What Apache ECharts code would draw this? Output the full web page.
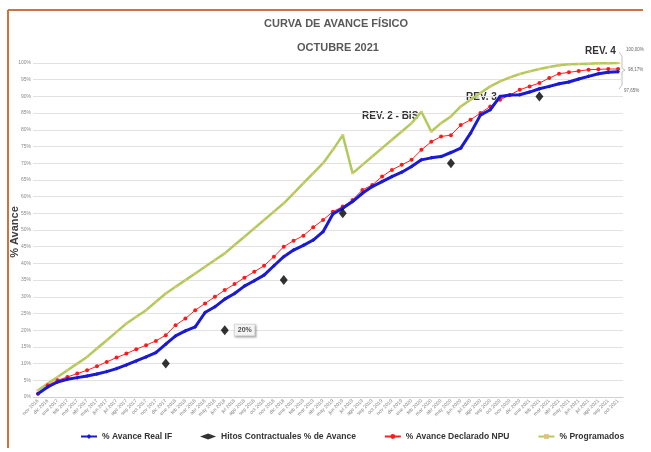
<!DOCTYPE html>
<html>
<head>
<meta charset="utf-8">
<script src="https://cdn.jsdelivr.net/npm/echarts@6/dist/echarts.min.js"></script>
<style>html,body{margin:0;padding:0;background:#fff}#c{width:651px;height:452px}</style>
</head>
<body>
<div id="c"></div>
<script>
const categories = [
 'nov 2016','dic 2016','ene 2017','feb 2017','mar 2017','abr 2017','may 2017','jun 2017','jul 2017','ago 2017','sep 2017','oct 2017',
 'nov 2017','dic 2017','ene 2018','feb 2018','mar 2018','abr 2018','may 2018','jun 2018','jul 2018','ago 2018','sep 2018','oct 2018',
 'nov 2018','dic 2018','ene 2019','feb 2019','mar 2019','abr 2019','may 2019','jun 2019','jul 2019','ago 2019','sep 2019','oct 2019',
 'nov 2019','dic 2019','ene 2020','feb 2020','mar 2020','abr 2020','may 2020','jun 2020','jul 2020','ago 2020','sep 2020','oct 2020',
 'nov 2020','dic 2020','ene 2021','feb 2021','mar 2021','abr 2021','may 2021','jun 2021','jul 2021','ago 2021','sep 2021','oct 2021'
];
const realIF = [
 1,3,4.5,5.3,5.8,6.3,6.9,7.6,8.5,9.6,10.8,12,
 13.3,15.8,18.3,19.8,21,25.3,27,29.3,31,33.2,34.8,36.5,
 39.3,42,44,45.4,47,49.5,54.8,56.5,58.5,61,63,64.5,
 66,67.3,69,71,71.6,72,73.2,74.5,79,84.4,86,90,
 90.4,90.5,91.3,92.3,93,93.8,94.3,95.2,96,96.8,97.2,97.4
];
const hitos = [
 null,null,null,null,null,null,null,null,null,null,null,null,
 null,10,null,null,null,null,null,20,null,null,null,null,
 null,35,null,null,null,null,null,55,null,null,null,null,
 null,null,null,null,null,null,70,null,null,null,null,null,
 null,null,null,90,null,null,null,null,null,null,null,null
];
const npu = [
 1,3.5,5,6,7,8,9.2,10.5,11.8,13,14.3,15.5,
 16.8,18.5,21.5,23.5,26,28,30,32,33.8,35.7,37.5,39.3,
 42,45,46.8,48.3,50.8,53,55.5,57,59,62,63.5,66,
 68,69.5,71,74,76.4,78,78.4,81.4,83,85,87,89,
 90.4,92,93,94,95.5,96.8,97.2,97.6,98,98.1,98.2,98.2
];
const programado = [
 2,4,6,8,10,12,14.5,17,19.5,22,24,26,
 28.5,31,33,35,37,39,41,43,45.5,48,50.5,53,
 55.5,58,61,64,67,70,74,78.4,67,69.5,72,74.5,
 77,79.5,82,85.4,79.5,82,84,87,89,91,93,94.5,
 95.7,96.7,97.5,98.2,98.8,99.3,99.6,99.7,99.8,99.9,99.9,100
];
const labeledHito = 19;
const endLabels = ['100,00%','98,17%','97,65%'];

const chart = echarts.init(document.getElementById('c'), null, {renderer:'canvas'});
const F = 'Liberation Sans, Arial, sans-serif';
chart.setOption({
  animation:false,
  backgroundColor:'#fff',
  title:[
    {text:'CURVA DE AVANCE FÍSICO', left:259, top:13, textStyle:{fontFamily:F,fontSize:11,fontWeight:'bold',color:'#595959'}},
    {text:'OCTUBRE 2021', left:292, top:37, textStyle:{fontFamily:F,fontSize:11,fontWeight:'bold',color:'#595959'}}
  ],
  grid:{left:33,right:28,top:63,bottom:55,containLabel:false,outerBoundsMode:'none'},
  legend:{
    bottom:6,left:75,itemGap:28,itemWidth:16,itemHeight:6,
    textStyle:{fontFamily:F,fontSize:8.5,fontWeight:'bold',color:'#333'},
    data:['% Avance Real IF','Hitos Contractuales % de Avance','% Avance Declarado NPU','% Programados']
  },
  xAxis:{
    type:'category',data:categories,boundaryGap:true,
    axisLine:{lineStyle:{color:'#d0d0d0'}},axisTick:{show:false},
    axisLabel:{interval:0,rotate:45,fontSize:5,color:'#808080',margin:3,fontFamily:F,hideOverlap:false}
  },
  yAxis:{
    type:'value',min:0,max:100,interval:5,
    axisLabel:{formatter:'{value}%',fontSize:5,color:'#8a8a8a',margin:2,fontFamily:F},
    axisLine:{show:false},axisTick:{show:false},
    splitLine:{lineStyle:{color:'#e2e2e2',width:1}}
  },
  series:[
    {name:'% Programados',type:'line',data:programado,symbol:'rect',symbolSize:[3,2],
     lineStyle:{color:'#b0cb5c',width:2.5},itemStyle:{color:'#e2c27a'},z:2},
    {name:'% Avance Declarado NPU',type:'line',data:npu,symbol:'circle',symbolSize:4,
     lineStyle:{color:'#ff2020',width:1},itemStyle:{color:'#ff1a1a'},z:3},
    {name:'% Avance Real IF',type:'line',data:realIF,symbol:'diamond',symbolSize:4,
     lineStyle:{color:'#1a1ad6',width:3},itemStyle:{color:'#1a1ad6'},z:4},
    {name:'Hitos Contractuales % de Avance',type:'scatter',symbol:'diamond',symbolSize:[8,10],
     itemStyle:{color:'#000'},z:5,
     data:hitos.map(function(v,i){
       if(i!==labeledHito) return v;
       return {value:v,label:{show:true,position:'right',distance:6,formatter:v+'%',
         fontFamily:F,fontSize:7,fontWeight:'bold',color:'#222',
         backgroundColor:'#fff',borderColor:'#d0d0d0',borderWidth:1,padding:[2,3],
         shadowColor:'rgba(0,0,0,0.25)',shadowBlur:2,shadowOffsetX:1,shadowOffsetY:1}};
     })}
  ],
  graphic:[
    {type:'line',shape:{x1:8,y1:10,x2:643,y2:10},style:{stroke:'#c8753f',lineWidth:2}},
    {type:'line',shape:{x1:8,y1:10,x2:8,y2:448},style:{stroke:'#c8753f',lineWidth:2}},
    {type:'text',x:15,y:232,rotation:Math.PI/2,style:{text:'% Avance',fontFamily:F,fontSize:11,fontWeight:'bold',fill:'#404040',align:'center',verticalAlign:'middle'}},
    {type:'text',left:362,top:111,style:{text:'REV. 2 - BIS',fontFamily:F,fontSize:10,fontWeight:'bold',fill:'#333'}},
    {type:'text',left:466,top:92,style:{text:'REV. 3',fontFamily:F,fontSize:10,fontWeight:'bold',fill:'#333'}},
    {type:'text',left:585,top:46,style:{text:'REV. 4',fontFamily:F,fontSize:10,fontWeight:'bold',fill:'#333'}},
    {type:'polyline',shape:{points:[[619,52],[622,56],[622,68],[625,70],[622,72],[622,85],[619,89]]},style:{stroke:'#999',lineWidth:0.6,fill:null}},
    {type:'text',left:626,top:47,style:{text:endLabels[0],fontFamily:F,fontSize:4.5,fill:'#666'}},
    {type:'text',left:628,top:67,style:{text:endLabels[1],fontFamily:F,fontSize:4.5,fill:'#666'}},
    {type:'text',left:624,top:88,style:{text:endLabels[2],fontFamily:F,fontSize:4.5,fill:'#666'}}
  ]
});
</script>
</body>
</html>
